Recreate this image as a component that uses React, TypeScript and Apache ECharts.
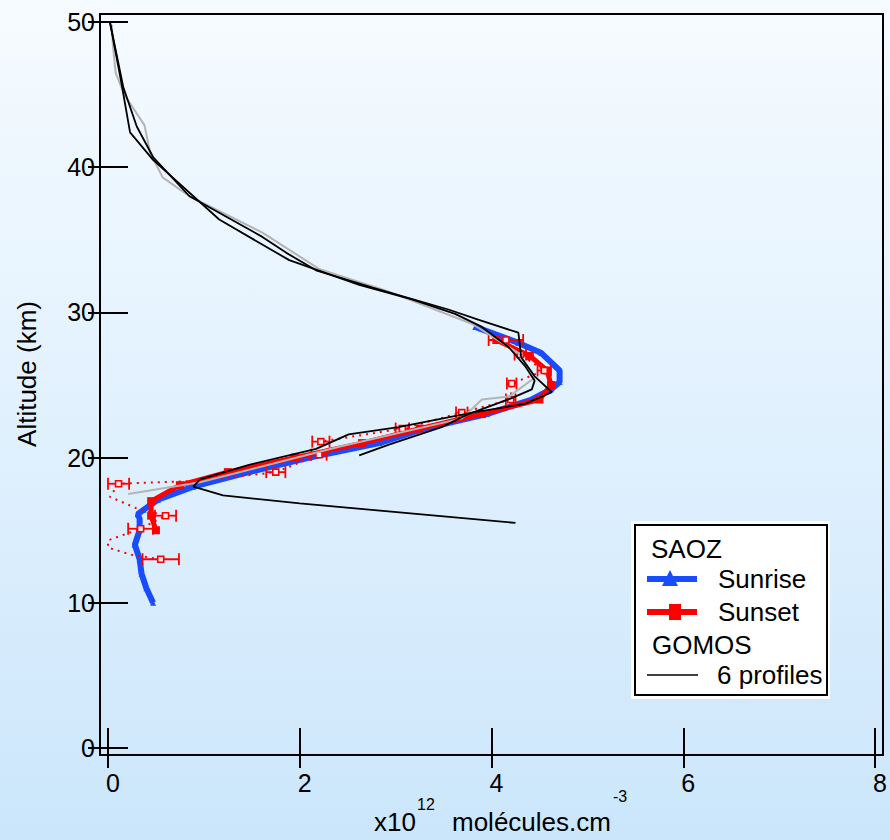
import React, { useEffect, useRef } from "react";
import * as echarts from "echarts";

const FONT = "'Liberation Sans', Arial, Helvetica, sans-serif";

// Axis ticks
const xTicks = [0, 2, 4, 6, 8];
const yTicks = [0, 10, 20, 30, 40, 50];

// SAOZ sunrise (x10^12 molecules/cm3 vs altitude km)
const sunriseAlt = [10, 11, 12, 13, 14, 15, 15.8, 16.1, 16.4, 17.1, 18, 19, 20, 21, 22, 23, 24, 24.7, 25.2, 26, 27.2, 27.9, 29];
const sunriseVal = [0.47, 0.4, 0.35, 0.33, 0.28, 0.33, 0.33, 0.31, 0.37, 0.52, 0.89, 1.47, 2.1, 2.83, 3.3, 3.95, 4.42, 4.62, 4.71, 4.71, 4.52, 4.28, 3.83];

// SAOZ sunset (thick profile)
const sunsetAlt = [15, 16, 17, 18.1, 19, 20, 21, 22, 23, 24, 25, 26, 27, 28.1];
const sunsetVal = [0.5, 0.45, 0.45, 0.75, 1.25, 1.95, 2.65, 3.25, 3.9, 4.5, 4.62, 4.58, 4.4, 4.05];

// SAOZ sunset individual points with error bars
const errAlt = [13.0, 15.1, 16.0, 18.2, 19.0, 20.2, 21.1, 22.0, 23.1, 24.0, 25.1, 26.0, 27.1, 28.1];
const errVal = [0.55, 0.34, 0.6, 0.11, 1.75, 2.2, 2.22, 3.07, 3.69, 4.2, 4.21, 4.55, 4.3, 4.15];
const errHalf = [0.19, 0.13, 0.11, 0.11, 0.1, 0.08, 0.09, 0.07, 0.06, 0.05, 0.05, 0.07, 0.06, 0.18];

// dotted sunset profile
const dotAlt = [13.0, 13.3, 13.8, 14.3, 15.1, 16.0, 16.5, 17.3, 18.2, 18.4, 19.0, 20.2, 21.1, 22.0, 23.1, 24.0, 25.1, 26.0, 27.1, 28.1];
const dotVal = [0.55, 0.25, 0.0, 0.0, 0.34, 0.6, 0.3, 0.02, 0.11, 0.95, 1.75, 2.2, 2.22, 3.07, 3.69, 4.2, 4.21, 4.55, 4.3, 4.15];

// GOMOS profiles
const gomos1Alt = [50, 45.5, 42.8, 40.7, 38.0, 35.2, 34.1, 32.9, 31.7, 30.2, 29.5, 28.6, 26.9, 25.6, 24.5, 23.7, 23.1, 22.1, 21.6, 20.6, 19.5, 18.5, 18.0, 17.4, 16.85, 15.5];
const gomos1Val = [0.02, 0.16, 0.3, 0.47, 0.85, 1.61, 1.86, 2.17, 2.76, 3.55, 3.86, 4.28, 4.31, 4.45, 4.63, 4.35, 3.8, 3.03, 2.51, 2.17, 1.47, 0.96, 0.89, 1.2, 2.0, 4.25];

const gomos2Alt = [50, 45.8, 42.4, 40.5, 36.4, 33.6, 31.9, 30.9, 29.9, 29.0, 27.6, 26.3, 25.3, 24.7, 24.1, 23.0, 22.1, 20.9, 20.15];
const gomos2Val = [0.02, 0.14, 0.23, 0.47, 1.16, 1.89, 2.62, 3.17, 3.62, 3.9, 4.18, 4.35, 4.45, 4.42, 4.21, 3.76, 3.48, 2.93, 2.62];

const gomos3Alt = [49.8, 48.5, 46.5, 45.0, 42.9, 41.0, 39.3, 38.0, 35.5, 33.0, 31.5, 29.2, 27.2, 25.5, 24.2, 24.0, 22.7, 20.75, 18.3, 17.5];
const gomos3Val = [0.04, 0.05, 0.08, 0.17, 0.38, 0.44, 0.57, 0.85, 1.61, 2.2, 2.9, 3.8, 4.28, 4.45, 4.18, 3.9, 3.69, 2.41, 0.96, 0.21];

const pairs = (vals: number[], alts: number[]) => vals.map((v, i) => [v, alts[i]]);

export default function App() {
  const ref = useRef<HTMLDivElement>(null);

  useEffect(() => {
    if (!ref.current) return;
    const chart = echarts.init(ref.current, null, { renderer: "svg" });

    const tick = { inside: true, length: 20, lineStyle: { color: "#000", width: 2 } };

    const lineSeries = (name: string, data: number[][], color: string, width: number, z: number, extra: any = {}) => ({
      name,
      type: "line",
      data,
      xAxisIndex: 0,
      yAxisIndex: 0,
      lineStyle: { color, width },
      itemStyle: { color },
      symbol: "none",
      z,
      ...extra,
    });

    const T = (text: string, x: number, y: number, size: number, extra: any = {}, rotation = 0) => ({
      type: "text",
      x,
      y,
      z: 100,
      rotation,
      style: {
        text,
        fill: "#000",
        fontSize: size,
        fontFamily: FONT,
        align: "left",
        verticalAlign: "middle",
        textAlign: "left",
        textVerticalAlign: "middle",
        ...extra,
      },
    });

    const option: any = {
      animation: false,
      backgroundColor: "transparent",
      grid: { left: 108, right: 12, top: 22, bottom: 92, containLabel: false },
      xAxis: [
        {
          type: "value",
          min: xTicks[0],
          max: xTicks[xTicks.length - 1],
          interval: 2,
          position: "bottom",
          offset: 7,
          axisLine: { show: false },
          axisTick: tick,
          splitLine: { show: false },
          axisLabel: { fontSize: 25, color: "#000", fontFamily: FONT, margin: 15, padding: [0, 0, 0, 10] },
        },
        {
          type: "value",
          min: xTicks[0],
          max: xTicks[xTicks.length - 1],
          interval: 2,
          position: "top",
          offset: 8,
          axisLine: { show: false },
          axisTick: tick,
          splitLine: { show: false },
          axisLabel: { show: false },
        },
      ],
      yAxis: [
        {
          type: "value",
          min: yTicks[0],
          max: yTicks[yTicks.length - 1],
          interval: 10,
          position: "left",
          offset: 8,
          axisLine: { show: false },
          axisTick: tick,
          splitLine: { show: false },
          axisLabel: { fontSize: 25, color: "#000", fontFamily: FONT, margin: 5, padding: [4, 0, 0, 0] },
        },
        {
          type: "value",
          min: yTicks[0],
          max: yTicks[yTicks.length - 1],
          interval: 10,
          position: "right",
          offset: 5,
          axisLine: { show: false },
          axisTick: tick,
          splitLine: { show: false },
          axisLabel: { show: false },
        },
      ],
      series: [
        lineSeries("Sunrise", pairs(sunriseVal, sunriseAlt), "#1a4cff", 6, 2, {
          symbol: "triangle",
          symbolSize: 6,
          showSymbol: true,
        }),
        lineSeries("Sunset", pairs(sunsetVal, sunsetAlt), "#ff0000", 5, 3, {
          symbol: "rect",
          symbolSize: 8,
          showSymbol: true,
        }),
        {
          name: "Sunset points",
          type: "line",
          data: pairs(dotVal, dotAlt),
          lineStyle: { color: "#ff0000", width: 2, type: [2, 5] },
          symbol: "none",
          z: 4,
        },
        {
          name: "Sunset error",
          type: "custom",
          z: 5,
          data: errVal.map((v, i) => [v, errAlt[i], errHalf[i]]),
          encode: { x: 0, y: 1 },
          renderItem: (params: any, api: any) => {
            const x = api.value(0);
            const y = api.value(1);
            const e = api.value(2);
            const a = api.coord([x - e, y]);
            const b = api.coord([x + e, y]);
            const c = api.coord([x, y]);
            const st = { stroke: "#ff0000", lineWidth: 1.8, fill: "none" };
            return {
              type: "group",
              children: [
                { type: "line", shape: { x1: a[0], y1: a[1], x2: b[0], y2: b[1] }, style: st },
                { type: "line", shape: { x1: a[0], y1: a[1] - 6, x2: a[0], y2: a[1] + 6 }, style: st },
                { type: "line", shape: { x1: b[0], y1: b[1] - 6, x2: b[0], y2: b[1] + 6 }, style: st },
                {
                  type: "rect",
                  shape: { x: c[0] - 3, y: c[1] - 3, width: 6, height: 6 },
                  style: { stroke: "#ff0000", lineWidth: 1.6, fill: "#ffe8e8" },
                },
              ],
            };
          },
        },
        lineSeries("GOMOS 3", pairs(gomos3Val, gomos3Alt), "#b4b4b4", 2, 6),
        lineSeries("GOMOS 2", pairs(gomos2Val, gomos2Alt), "#000000", 1.8, 7),
        lineSeries("GOMOS 1", pairs(gomos1Val, gomos1Alt), "#000000", 1.8, 7),
      ],
      graphic: [
        {
          type: "rect",
          shape: { x: 100, y: 14, width: 783, height: 741 },
          style: { fill: "none", stroke: "#000", lineWidth: 2 },
          z: 50,
        },
        // axis names
        T("Altitude (km)", 27, 374, 26, { align: "center", textAlign: "center" }, Math.PI / 2),
        T("x10", 374, 822, 26),
        T("12", 417, 804, 16),
        T("molécules.cm", 452, 822, 26),
        T("-3", 613, 796, 16),
        // legend box
        {
          type: "rect",
          shape: { x: 631, y: 521, width: 199, height: 178 },
          style: { fill: "#ffffff", stroke: "none" },
          z: 80,
        },
        {
          type: "rect",
          shape: { x: 635, y: 525, width: 192, height: 170 },
          style: { fill: "#ffffff", stroke: "#000", lineWidth: 2 },
          z: 81,
        },
        T("SAOZ", 651, 549, 26),
        {
          type: "line",
          shape: { x1: 647, y1: 579, x2: 697, y2: 579 },
          style: { stroke: "#1a4cff", lineWidth: 6 },
          z: 90,
        },
        {
          type: "polygon",
          shape: { points: [[670, 570], [662, 586], [678, 586]] },
          style: { fill: "#1a4cff" },
          z: 91,
        },
        T("Sunrise", 718, 579, 26),
        {
          type: "line",
          shape: { x1: 647, y1: 612, x2: 697, y2: 612 },
          style: { stroke: "#ff0000", lineWidth: 6 },
          z: 90,
        },
        {
          type: "rect",
          shape: { x: 669, y: 604, width: 12, height: 16 },
          style: { fill: "#ff0000" },
          z: 91,
        },
        T("Sunset", 718, 612, 26),
        T("GOMOS", 652, 645, 26),
        {
          type: "line",
          shape: { x1: 647, y1: 675, x2: 698, y2: 675 },
          style: { stroke: "#000", lineWidth: 1.5 },
          z: 90,
        },
        T("6 profiles", 717, 675, 26),
      ],
    };

    chart.setOption(option);
    return () => chart.dispose();
  }, []);

  return (
    <div
      style={{
        position: "fixed",
        left: 0,
        top: 0,
        width: 890,
        height: 840,
        background: "linear-gradient(to bottom, #f6fbff 0%, #e3f2fe 45%, #cbe6fb 100%)",
      }}
    >
      <div ref={ref} style={{ width: 890, height: 840 }} />
    </div>
  );
}
